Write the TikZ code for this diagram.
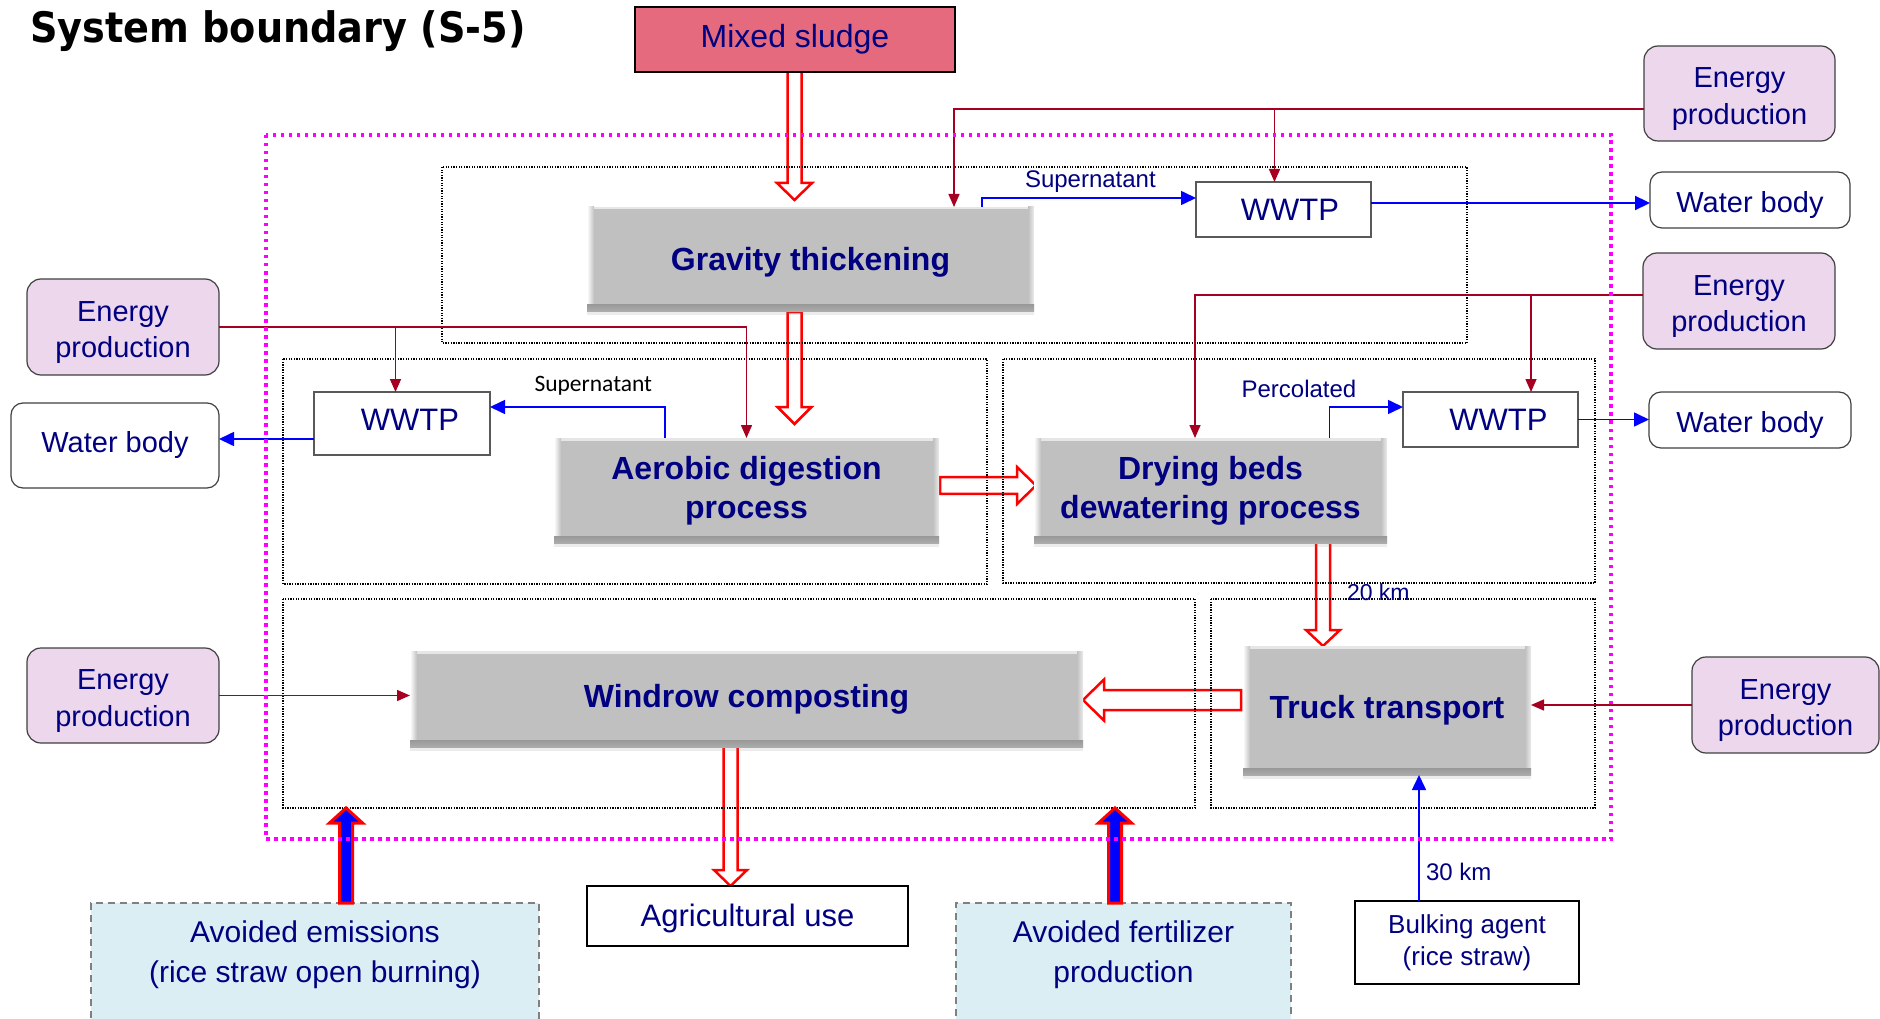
\documentclass[tikz,border=0pt]{standalone}
\usepackage{fontspec}
\setmainfont{Liberation Sans}
\newfontfamily\titlefont{DejaVu Sans}[FakeStretch=0.91]
\newfontfamily\calibrifont{Carlito}
\usetikzlibrary{calc,shadows,arrows.meta}
\pgfdeclarelayer{background}
\pgfsetlayers{background,main}

\definecolor{navy}{RGB}{0,0,128}
\definecolor{procgray}{RGB}{192,192,192}
\definecolor{procdark}{RGB}{152,152,152}
\definecolor{procmid}{RGB}{172,172,172}
\definecolor{energyfill}{RGB}{237,215,236}
\definecolor{energyline}{RGB}{165,0,33}
\definecolor{sludgefill}{RGB}{230,106,126}
\definecolor{avoidfill}{RGB}{219,238,244}
\definecolor{boundary}{RGB}{255,0,255}

\newcommand\setfs[2]{\fontsize{#1}{#2}\selectfont}
\newcommand\tpad[1]{\rule{0pt}{#1pt}}
\newcommand\bpad[1]{\rule[-#1pt]{0pt}{#1pt}}

% wide hollow / filled block arrow from #2 to #3:
% half shaft width #4, half head width #5, head length #6
\newcommand\bigarrow[6][]{%
  \coordinate (headbase) at ($(#3)!#6pt!(#2)$);
  \path[#1] ($(#2)!#4pt!90:(#3)$) -- ($(headbase)!#4pt!90:(#3)$)
    -- ($(headbase)!#5pt!90:(#3)$) -- (#3)
    -- ($(headbase)!#5pt!-90:(#3)$) -- ($(headbase)!#4pt!-90:(#3)$)
    -- ($(#2)!#4pt!-90:(#3)$) -- cycle;}

\begin{document}
\begin{tikzpicture}[x=1pt, y=-1pt,
  every node/.style={inner sep=0pt, outer sep=0pt, text=navy},
  proc/.style={fill=procgray, align=center, font=\bfseries\setfs{32}{39},
    drop shadow={shadow xshift=0pt, shadow yshift=-4pt, opacity=0.15},
    path picture={
      \path (path picture bounding box.south west) coordinate (pbsw)
            (path picture bounding box.north east) coordinate (pbne);
      \fill[white!60!procgray] (pbsw |- pbne) rectangle ($(pbne)+(0,2.5)$);
      \shade[left color=white, right color=procgray] (pbsw |- pbne) rectangle ($(pbsw)+(7,0)$);
      \shade[left color=procgray, right color=white!70!procgray] ($(pbne)+(-6,0)$) rectangle (pbne |- pbsw);
      \shade[top color=procdark, bottom color=procmid] (pbsw) rectangle ($(pbne |- pbsw)+(0,-7)$);
      \fill[procdark] ($(pbsw)+(0,-6)$) rectangle ($(pbne |- pbsw)+(0,-7)$);
    }},
  sludge/.style={draw=black, line width=2.2, fill=sludgefill, font=\setfs{32}{38}},
  energy/.style={draw=black!75, line width=1.2, fill=energyfill, rounded corners=14,
    align=center, font=\setfs{29}{36.5}},
  water/.style={draw=black!75, line width=1.2, fill=white, rounded corners=12, font=\setfs{29}{35}},
  wwtp/.style={draw=black!65, line width=1.3, fill=white, font=\setfs{31}{36}},
  outbox/.style={draw=black, line width=2.3, fill=white, align=center, font=\setfs{31}{36}},
  avoid/.style={draw=black!50, line width=2.5, dash pattern=on 7pt off 5pt, fill=avoidfill},
  avoidtext/.style={align=center, font=\setfs{30}{40}},
  label/.style={anchor=base west, font=\setfs{24}{28}},
  eline/.style={draw=energyline, line width=1.5, -{Triangle[length=13pt,width=11pt]}},
  wline/.style={draw=blue, line width=1.6, -{Triangle[length=15pt,width=14pt]}},
  hollow/.style={draw=red, line width=2.5, fill=white, line join=miter},
  solidup/.style={draw=red, line width=3, fill=blue, line join=miter},
  groupframe/.style={draw=black, line width=1.3, dash pattern=on 1.3pt off 1.3pt},
  sysbound/.style={draw=boundary, line width=3.5, dash pattern=on 3.5pt off 4.5pt}]

\useasboundingbox (0,0) rectangle (1880,1019);

% title
\node[anchor=base west, text=black, font=\titlefont\bfseries\setfs{42}{50}] (title)
  at (30,43) {System boundary (S-5)};

% process group frames
\draw[groupframe] (442,167) rectangle (1467,343);
\draw[groupframe] (283,359) rectangle (987,584);
\draw[groupframe] (1003,359) rectangle (1595,583);
\draw[groupframe] (283,599) rectangle (1195,808);
\draw[groupframe] (1211,599) rectangle (1595,808);
\coordinate (fDse) at (1195,808);

% main process units
\node[sludge, minimum width=320, minimum height=65] (ms) at (795,39.5) {Mixed sludge};
\node[proc, minimum width=447, minimum height=104] (gt) at (810.5,259) {\tpad{29}Gravity thickening};
\node[proc, minimum width=385, minimum height=105] (ad) at (746.5,490.5) {Aerobic digestion\\process};
\node[proc, minimum width=353, minimum height=105] (db) at (1210.5,490.5) {Drying beds\\dewatering process};
\node[proc, minimum width=673, minimum height=96] (wc) at (746.5,699) {Windrow composting};
\node[proc, minimum width=288, minimum height=129] (tt) at (1387,710.5) {Truck transport};

% wastewater treatment and receiving water
\node[wwtp, minimum width=175, minimum height=55] (w1) at (1283.5,209.5) {\hspace*{13pt}WWTP};
\node[wwtp, minimum width=176, minimum height=63] (w2) at (402,423.5) {\hspace*{16pt}WWTP\bpad{7}};
\node[wwtp, minimum width=175, minimum height=55] (w3) at (1490.5,419.5) {\hspace*{16pt}WWTP};
\node[water, minimum width=200, minimum height=56] (wb1) at (1750,200) {\tpad{31}Water body};
\node[water, minimum width=208, minimum height=85] (wb2) at (115,445.5) {Water body};
\node[water, minimum width=202, minimum height=56] (wb3) at (1750,420) {\tpad{31}Water body};

% energy supply
\node[energy, minimum width=191, minimum height=95] (ep1) at (1739.5,93.5) {\tpad{31}Energy\\production};
\node[energy, minimum width=192, minimum height=96] (ep2) at (1739,301) {\tpad{31}Energy\\production};
\node[energy, minimum width=192, minimum height=96] (ep3) at (123,327) {\tpad{31}Energy\\production};
\node[energy, minimum width=192, minimum height=95] (ep4) at (123,695.5) {\tpad{31}Energy\\production};
\node[energy, minimum width=187, minimum height=96] (ep5) at (1785.5,705) {\tpad{31}Energy\\production};

% outputs and inputs
\node[outbox, minimum width=321, minimum height=60] (au) at (747.5,916) {\tpad{28}Agricultural use};
\node[outbox, line width=2, minimum width=224, minimum height=83, font=\setfs{26}{32}] (ba)
  at (1467,942.5) {Bulking agent\\(rice straw)};
\node[avoid, minimum width=448, minimum height=124] (ae) at (315,965) {};
\node[avoidtext] (aetxt) at (315,955) {Avoided emissions\\(rice straw open burning)};
\node[avoid, minimum width=335, minimum height=124] (af) at (1123.5,965) {};
\node[avoidtext] (aftxt) at (1123.5,955) {Avoided fertilizer\\production};

% flow labels
\node[label] (lsup1) at (1025,188) {Supernatant};
\node[label, text=black, font=\calibrifont\setfs{23.5}{28}] (lsup2) at (534.5,391.7) {Supernatant};
\node[label] (lperc) at (1241.6,397) {Percolated};
\node[label, font=\setfs{23}{28}] (l20) at (1347,600) {20 km};
\node[label] (l30) at (1426,880.7) {30 km};

% sludge and product flows (block arrows, behind the units)
\begin{pgfonlayer}{background}
  \coordinate (a1s) at ($(ms.south)+(-0.5,-8)$);
  \coordinate (a1e) at ($(ms.south |- gt.north)+(-0.5,-7)$);
  \bigarrow[hollow]{a1s}{a1e}{7}{17.5}{17}
  \coordinate (a2s) at ($(gt.south)+(-16,1)$);
  \coordinate (a2e) at ($(a2s |- ad.north)+(0,-14)$);
  \bigarrow[hollow]{a2s}{a2e}{7}{17}{17}
  \coordinate (a3s) at ($(ad.east)+(1,-5)$);
  \coordinate (a3e) at ($(a3s -| db.west)+(2,0)$);
  \bigarrow[hollow]{a3s}{a3e}{8.3}{18.5}{19}
  \coordinate (a4s) at ($(db.south)+(112.5,-8)$);
  \coordinate (a4e) at (a4s |- tt.north);
  \bigarrow[hollow]{a4s}{a4e}{7}{17}{16}
  \coordinate (a5s) at ($(tt.west)+(-2,-10.5)$);
  \coordinate (a5e) at (a5s -| wc.east);
  \bigarrow[hollow]{a5s}{a5e}{10}{20.5}{21}
  \coordinate (a6s) at ($(wc.south)+(-16,-7)$);
  \coordinate (a6e) at (a6s |- au.north);
  \bigarrow[hollow]{a6s}{a6e}{7}{16.5}{16}
\end{pgfonlayer}

% avoided burdens credited to the system
\coordinate (a7s) at ($(ae.north)+(31,0)$);
\coordinate (a7e) at (a7s |- fDse);
\bigarrow[solidup]{a7s}{a7e}{6.5}{16.5}{15}
\coordinate (a8s) at ($(af.north)+(-8.5,0)$);
\coordinate (a8e) at (a8s |- fDse);
\bigarrow[solidup]{a8s}{a8e}{6.5}{16.5}{15}

% energy supply lines
\coordinate (e1) at ($(ep1.west)+(0,15.5)$);
\draw[eline] (e1) -| ([xshift=143.5]gt.north);
\draw[eline] (e1) -| ([xshift=-9]w1.north);
\coordinate (e2) at ($(ep2.west)+(0,-6)$);
\draw[eline] (e2) -| ([xshift=-15.5]db.north);
\draw[eline] (e2) -| ([xshift=40.5]w3.north);
\draw[eline] (ep3.east) -| (ad.north);
\draw[eline] (ep3.east) -| ([xshift=-6.5]w2.north);
\draw[eline] (ep4.east) -- (ep4.east -| wc.west);
\draw[eline] (ep5.west) -- (ep5.west -| tt.east);

% water flows
\coordinate (s1) at ([xshift=171.5]gt.north);
\draw[wline] (s1) |- ($(w1.west)+(0,-11.5)$);
\coordinate (o1) at ($(w1.east)+(0,-6.5)$);
\draw[wline, line width=2.2] (o1) -- (o1 -| wb1.west);
\coordinate (s2) at ([xshift=-81.5]ad.north);
\draw[wline] (s2) |- ($(w2.east)+(0,-16.5)$);
\coordinate (o2) at ($(w2.west)+(0,15.5)$);
\draw[wline] (o2) -- (o2 -| wb2.east);
\coordinate (s3) at ([xshift=119]db.north);
\draw[wline] (s3) |- ($(w3.west)+(0,-12.5)$);
\draw[wline] (w3.east) -- (w3.east -| wb3.west);
\coordinate (b1) at ([xshift=-48]ba.north);
\draw[wline] (b1) -- (b1 |- tt.south);

% system boundary
\draw[sysbound] (266,135) rectangle (1611,839);
\end{tikzpicture}
\end{document}
